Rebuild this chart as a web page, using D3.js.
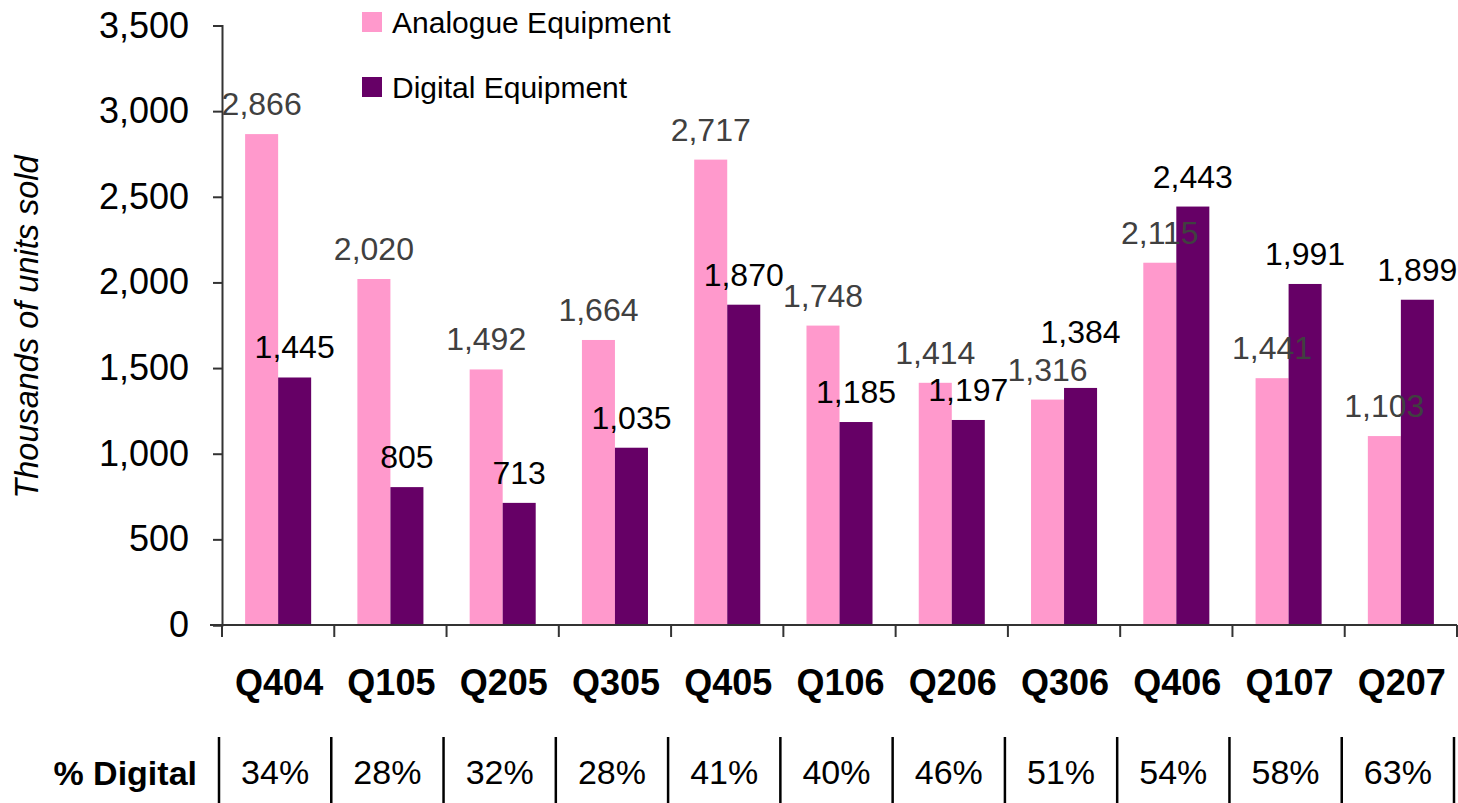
<!DOCTYPE html>
<meta charset="utf-8">
<head>
  <title>Analogue vs digital units sold</title>
</head>

<style>
body {
  margin: 0;
  background: #fff;
  font-family: Arial, "Liberation Sans", Helvetica, sans-serif;
}
svg text { fill: #000; }
</style>

<body>
  <svg width="1458" height="803"></svg>

  <script src="https://cdnjs.cloudflare.com/ajax/libs/d3/7.8.5/d3.min.js"></script>

  <script>
// quarters along the bottom
var quarters = ['Q404', 'Q105', 'Q205', 'Q305', 'Q405', 'Q106', 'Q206', 'Q306', 'Q406', 'Q107', 'Q207'];

// thousands of units sold
var analogue = [2866, 2020, 1492, 1664, 2717, 1748, 1414, 1316, 2115, 1441, 1103];
var digital = [1445, 805, 713, 1035, 1870, 1185, 1197, 1384, 2443, 1991, 1899];

// the % digital row under the chart
var pctDigital = ['34%', '28%', '32%', '28%', '41%', '40%', '46%', '51%', '54%', '58%', '63%'];

var seriesNames = ['Analogue Equipment', 'Digital Equipment'];
var yTicks = [0, 500, 1000, 1500, 2000, 2500, 3000, 3500];

var colours = ['#ff99cc', '#660066'];
var labelColours = ['#404040', '#000'];

// the Q306 digital label was lifted clear of the analogue one in the original
var liftedLabel = {q: 'Q306', series: 1, by: 26};

var svg = d3.select('svg');

var y = d3.scaleLinear()
  .domain([0, 3500])
  .range([625, 25.5]);

var x = d3.scaleBand()
  .domain(quarters)
  .range([222, 1457])
  .padding(0);

var xs = d3.scaleBand()
  .domain([0, 1])
  .range([0, x.bandwidth()])
  .paddingInner(0)
  .paddingOuter(0.7);

var fmt = d3.format(',');

// y axis
var yAxis = svg.append('g')
  .attr('transform', 'translate(222,0)')
  .call(d3.axisLeft(y).tickValues(yTicks).tickSize(9).tickSizeOuter(9).tickPadding(24).tickFormat(fmt));

yAxis.selectAll('path, line').attr('stroke', '#333').attr('stroke-width', 2);
yAxis.selectAll('text')
  .attr('font-size', 36)
  .attr('font-family', 'Arial, "Liberation Sans", sans-serif')
  .attr('fill', '#000');

svg.append('text')
  .attr('transform', 'translate(38,327) rotate(-90)')
  .attr('text-anchor', 'middle')
  .attr('font-size', 32.5)
  .attr('font-style', 'italic')
  .text('Thousands of units sold');

// bars
var rows = quarters.map(function(q, i) {
  return {q: q, values: [analogue[i], digital[i]], pct: pctDigital[i]};
});

var groups = svg.selectAll('g.quarter')
  .data(rows)
  .enter().append('g')
  .attr('class', 'quarter')
  .attr('transform', function(d) { return 'translate(' + x(d.q) + ',0)'; });

groups.selectAll('rect')
  .data(function(d) { return d.values; })
  .enter().append('rect')
  .attr('x', function(d, i) { return xs(i); })
  .attr('width', xs.bandwidth())
  .attr('y', function(d) { return y(d); })
  .attr('height', function(d) { return y(0) - y(d); })
  .attr('fill', function(d, i) { return colours[i]; });

groups.each(function(row) {
  d3.select(this).selectAll('text.value')
    .data(row.values)
    .enter().append('text')
    .attr('class', 'value')
    .attr('x', function(d, i) { return xs(i) + xs.bandwidth() / 2; })
    .attr('y', function(d, i) {
      var lift = (row.q === liftedLabel.q && i === liftedLabel.series) ? liftedLabel.by : 0;
      return y(d) - 19 - lift;
    })
    .attr('text-anchor', 'middle')
    .attr('font-size', 32)
    .style('fill', function(d, i) { return labelColours[i]; })
    .text(function(d) { return fmt(d); });
});

// x axis line + boundary ticks
var edges = quarters.map(function(q) { return x(q); }).concat([x.range()[1]]);

svg.append('line')
  .attr('x1', 210).attr('x2', x.range()[1])
  .attr('y1', y(0)).attr('y2', y(0))
  .attr('stroke', '#333').attr('stroke-width', 2);

svg.selectAll('line.xtick')
  .data(edges)
  .enter().append('line')
  .attr('class', 'xtick')
  .attr('x1', function(d) { return d; }).attr('x2', function(d) { return d; })
  .attr('y1', y(0)).attr('y2', y(0) + 12)
  .attr('stroke', '#333').attr('stroke-width', 2);

groups.append('text')
  .attr('x', x.bandwidth() / 2 + 1)
  .attr('y', 695)
  .attr('text-anchor', 'middle')
  .attr('font-size', 36)
  .attr('font-weight', 'bold')
  .text(function(d) { return d.q; });

// % digital table
svg.append('text')
  .attr('x', 197)
  .attr('y', 785)
  .attr('text-anchor', 'end')
  .attr('font-size', 34)
  .attr('font-weight', 'bold')
  .text('% Digital');

svg.selectAll('line.sep')
  .data(edges)
  .enter().append('line')
  .attr('class', 'sep')
  .attr('x1', function(d) { return d - 3; }).attr('x2', function(d) { return d - 3; })
  .attr('y1', 737).attr('y2', 803)
  .attr('stroke', '#000').attr('stroke-width', 2.5);

groups.append('text')
  .attr('x', x.bandwidth() / 2 - 3)
  .attr('y', 784)
  .attr('text-anchor', 'middle')
  .attr('font-size', 34)
  .text(function(d) { return d.pct; });

// legend
var legend = svg.selectAll('g.legend')
  .data(seriesNames)
  .enter().append('g')
  .attr('class', 'legend')
  .attr('transform', function(d, i) { return 'translate(362,' + (12 + i * 65) + ')'; });

legend.append('rect')
  .attr('width', 20).attr('height', 20)
  .attr('fill', function(d, i) { return colours[i]; });

legend.append('text')
  .attr('x', 30)
  .attr('y', 10)
  .attr('dy', '0.35em')
  .attr('font-size', 30)
  .text(function(d) { return d; });
  </script>
</body>
</html>
